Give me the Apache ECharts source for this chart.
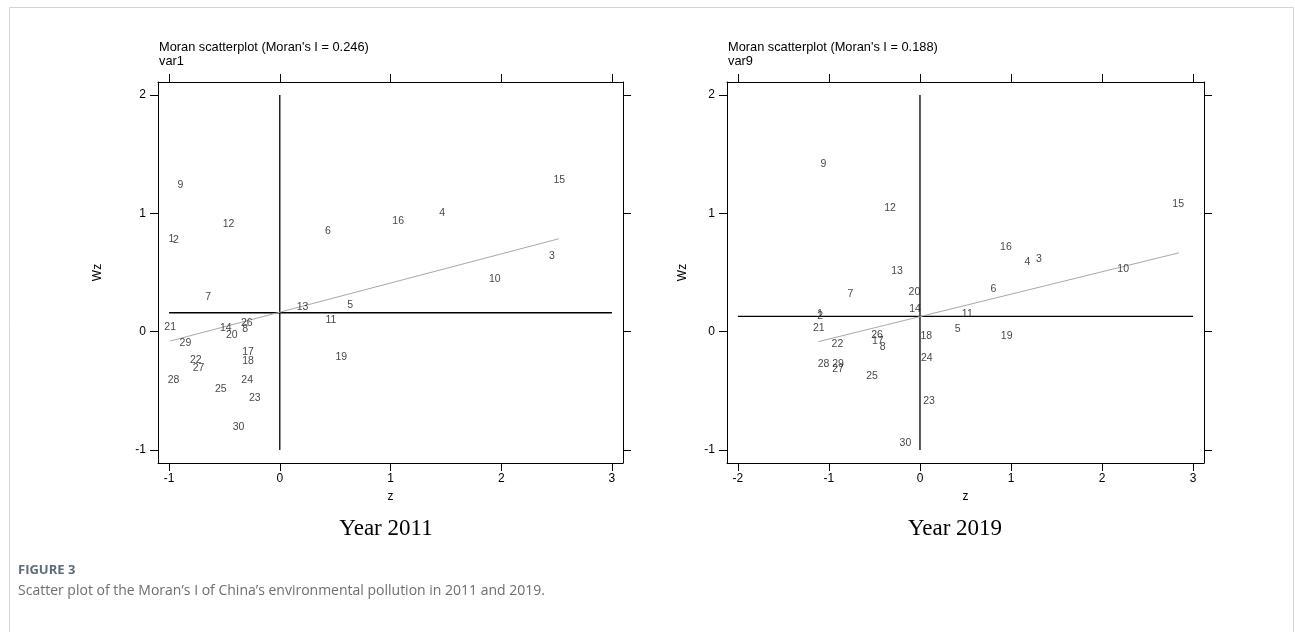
<!DOCTYPE html>
<html>
<head>
<meta charset="utf-8">
<script src="https://cdn.jsdelivr.net/npm/echarts@6/dist/echarts.min.js"></script>
<style>
html,body{margin:0;padding:0;background:#fff;}
#chart{width:1295px;height:632px;}
</style>
</head>
<body>
<div id="chart"></div>
<script>
// Region ids (labels)
const ids = ['1','2','3','4','5','6','7','8','9','10','11','12','13','14','15','16','17','18','19','20','21','22','23','24','25','26','27','28','29','30'];
// Year 2011: standardized value z and spatial lag Wz
const z2011  = [-0.978,-0.938,2.457,1.467,0.636,0.434,-0.647,-0.313,-0.897,1.942,0.461,-0.463,0.205,-0.488,2.524,1.069,-0.286,-0.286,0.555,-0.434,-0.990,-0.759,-0.226,-0.295,-0.533,-0.298,-0.734,-0.960,-0.852,-0.373];
const wz2011 = [0.780,0.770,0.635,1.004,0.225,0.852,0.289,0.025,1.237,0.441,0.095,0.908,0.211,0.034,1.285,0.933,-0.172,-0.251,-0.214,-0.029,0.036,-0.242,-0.563,-0.411,-0.487,0.076,-0.310,-0.408,-0.099,-0.810];
// Year 2019
const z2019  = [-1.100,-1.097,1.306,1.179,0.414,0.806,-0.764,-0.409,-1.060,2.232,0.520,-0.329,-0.252,-0.055,2.836,0.944,-0.464,0.070,0.952,-0.061,-1.112,-0.907,0.099,0.074,-0.527,-0.472,-0.900,-1.060,-0.900,-0.160];
const wz2019 = [0.150,0.135,0.610,0.590,0.025,0.360,0.315,-0.129,1.420,0.531,0.147,1.043,0.514,0.191,1.077,0.714,-0.084,-0.036,-0.036,0.337,0.034,-0.101,-0.590,-0.224,-0.374,-0.028,-0.315,-0.278,-0.272,-0.941];
// Reference lines
const vline2011 = [[0,-1],[0,2]];
const hline2011 = [[-1,0.16],[3,0.16]];
const fit2011   = [[-0.99,-0.079],[2.52,0.785]];
const vline2019 = [[0,-1],[0,2]];
const hline2019 = [[-2,0.13],[3,0.13]];
const fit2019   = [[-1.115,-0.084],[2.843,0.666]];
// Tick labels
const xTicks2011 = [-1,0,1,2,3];
const xTicks2019 = [-2,-1,0,1,2,3];
const yTicks = [-1,0,1,2];
const titles = ["Moran scatterplot (Moran's I = 0.246)", "Moran scatterplot (Moran's I = 0.188)"];
const vars = ['var1','var9'];
const years = ['Year 2011','Year 2019'];

const chart = echarts.init(document.getElementById('chart'), null, {renderer:'canvas'});
const F = "'Liberation Sans', Arial, Helvetica, sans-serif";

function xAx(gi, ticks, min, max, pos, labels){
  return {
    type:'value', gridIndex:gi, position:pos, min:min, max:max,
    axisLine:{show:true, onZero:false, lineStyle:{color:'#000', width:1}},
    axisTick:{show:true, inside:false, length:8, customValues:ticks, lineStyle:{color:'#000'}},
    axisLabel:{show:labels, customValues:ticks, margin:10, color:'#000', fontFamily:F, fontSize:12},
    splitLine:{show:false},
    name: labels ? 'z' : '', nameLocation:'middle', nameGap:28,
    nameTextStyle:{color:'#000', fontFamily:F, fontSize:12}
  };
}
function yAx(gi, pos, labels, gap){
  return {
    type:'value', gridIndex:gi, position:pos, min:-1.11, max:2.11,
    axisLine:{show:true, onZero:false, lineStyle:{color:'#000', width:1}},
    axisTick:{show:true, inside:false, length:8, customValues:yTicks, lineStyle:{color:'#000'}},
    axisLabel:{show:labels, customValues:yTicks, margin:12, color:'#000', fontFamily:F, fontSize:12},
    splitLine:{show:false},
    name: labels ? 'Wz' : '', nameLocation:'middle', nameGap:gap, nameRotate:90,
    nameTextStyle:{color:'#000', fontFamily:F, fontSize:12}
  };
}
function labelSeries(xi, zs, ws){
  return {
    type:'scatter', xAxisIndex:xi, yAxisIndex:xi, symbolSize:1,
    itemStyle:{color:'rgba(0,0,0,0)'}, silent:true,
    data: ids.map((id,i)=>[zs[i], ws[i], id]),
    label:{show:true, position:'inside', formatter:p=>p.data[2], color:'#111', fontFamily:F, fontSize:10.5},
    z:5
  };
}
function lineSeries(xi, data, color, w){
  return {type:'line', xAxisIndex:xi, yAxisIndex:xi, data:data, symbol:'none', silent:true,
    lineStyle:{color:color, width:w}, z:3};
}

const option = {
  animation:false,
  backgroundColor:'#fff',
  grid:[
    {left:158, top:82, width:465, height:381},
    {left:727, top:82, width:477, height:381}
  ],
  xAxis:[
    xAx(0, xTicks2011, -1.1, 3.1, 'bottom', true),
    xAx(1, xTicks2019, -2.12, 3.12, 'bottom', true),
    xAx(0, xTicks2011, -1.1, 3.1, 'top', false),
    xAx(1, xTicks2019, -2.12, 3.12, 'top', false)
  ],
  yAxis:[
    yAx(0, 'left', true, 54),
    yAx(1, 'left', true, 38),
    yAx(0, 'right', false, 0),
    yAx(1, 'right', false, 0)
  ],
  series:[
    lineSeries(0, vline2011, '#000', 1.3),
    lineSeries(0, hline2011, '#000', 1.3),
    lineSeries(0, fit2011, '#a8a8a8', 1),
    labelSeries(0, z2011, wz2011),
    lineSeries(1, vline2019, '#000', 1.3),
    lineSeries(1, hline2019, '#000', 1.3),
    lineSeries(1, fit2019, '#a8a8a8', 1),
    labelSeries(1, z2019, wz2019)
  ],
  graphic:[
    {type:'rect', shape:{x:9.5, y:7.5, width:1284, height:640}, style:{fill:'none', stroke:'#d4d4d4', lineWidth:1}, silent:true},
    {type:'text', x:159, y:47, style:{text:titles[0], font:'12.8px '+F, fill:'#000', textVerticalAlign:'middle'}},
    {type:'text', x:159, y:61, style:{text:vars[0], font:'12.8px '+F, fill:'#000', textVerticalAlign:'middle'}},
    {type:'text', x:728, y:47, style:{text:titles[1], font:'12.8px '+F, fill:'#000', textVerticalAlign:'middle'}},
    {type:'text', x:728, y:61, style:{text:vars[1], font:'12.8px '+F, fill:'#000', textVerticalAlign:'middle'}},
    {type:'text', x:386, y:529, style:{text:years[0], font:"23px 'Liberation Serif', 'Times New Roman', serif", fill:'#000', textAlign:'center', textVerticalAlign:'middle'}},
    {type:'text', x:955, y:529, style:{text:years[1], font:"23px 'Liberation Serif', 'Times New Roman', serif", fill:'#000', textAlign:'center', textVerticalAlign:'middle'}},
    {type:'text', x:18, y:570, style:{text:'FIGURE 3', font:"bold 13px 'Open Sans', sans-serif", fill:'#5f6b76', textVerticalAlign:'middle'}},
    {type:'text', x:18, y:591, style:{text:"Scatter plot of the Moran\u2019s I of China\u2019s environmental pollution in 2011 and 2019.", font:"14px 'Open Sans', sans-serif", fill:'#6e6e6e', textVerticalAlign:'middle'}}
  ]
};
chart.setOption(option);
</script>
</body>
</html>
